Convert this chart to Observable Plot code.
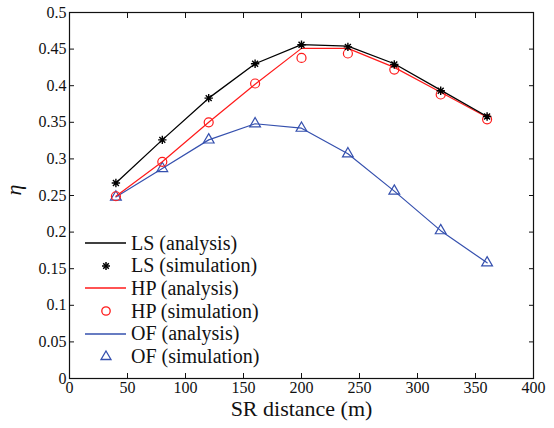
<!DOCTYPE html>
<html><head><meta charset="utf-8">
<script src="https://cdn.jsdelivr.net/npm/d3@7"></script>
<script src="https://cdn.jsdelivr.net/npm/@observablehq/plot@0.6"></script>
<style>
body{margin:0;background:#fff;}
#wrap{position:relative;width:554px;height:428px;font-family:'Liberation Serif',serif;}
#legend{position:absolute;left:85px;top:232px;font-size:20px;color:#111;font-family:'Liberation Serif',serif;}
#legend div{display:flex;align-items:center;height:22.6px;}
#legend svg{width:46px;height:22px;}
</style></head>
<body><div id="wrap"></div>
<script>
const distances = [40, 80, 120, 160, 200, 240, 280, 320, 360];
const lsAnalysis = [0.267, 0.326, 0.383, 0.430, 0.456, 0.454, 0.430, 0.394, 0.358];
const lsSimulation = [0.267, 0.326, 0.383, 0.430, 0.456, 0.453, 0.429, 0.393, 0.358];
const hpAnalysis = [0.249, 0.296, 0.350, 0.402, 0.451, 0.451, 0.425, 0.391, 0.357];
const hpSimulation = [0.249, 0.296, 0.350, 0.403, 0.438, 0.444, 0.422, 0.388, 0.354];
const ofAnalysis = [0.248, 0.287, 0.326, 0.348, 0.342, 0.307, 0.256, 0.202, 0.158];
const ofSimulation = [0.248, 0.287, 0.326, 0.348, 0.342, 0.307, 0.256, 0.202, 0.158];
const xTicks = [0, 50, 100, 150, 200, 250, 300, 350, 400];
const yTicks = [0, 0.05, 0.1, 0.15, 0.2, 0.25, 0.3, 0.35, 0.4, 0.45, 0.5];
const seriesNames = ["LS (analysis)", "LS (simulation)", "HP (analysis)", "HP (simulation)", "OF (analysis)", "OF (simulation)"];
const colors = {LS: "#000000", HP: "#ff1a1a", OF: "#3550ae"};

const mk = (arr) => distances.map((x, i) => ({x, y: arr[i]}));
const yFmt = d => d === 0 ? "0" : String(+d.toFixed(2));

const star = {
  draw(ctx, size) {
    const r = Math.sqrt(size / Math.PI);
    const a = r * 0.7071;
    ctx.moveTo(-r, 0); ctx.lineTo(r, 0);
    ctx.moveTo(0, -r); ctx.lineTo(0, r);
    ctx.moveTo(-a, -a); ctx.lineTo(a, a);
    ctx.moveTo(-a, a); ctx.lineTo(a, -a);
  }
};

const FONT = "'Liberation Serif', serif";
const chart = Plot.plot({
  width: 554, height: 428,
  marginLeft: 69, marginRight: 21, marginTop: 12, marginBottom: 50,
  style: {fontFamily: FONT, fontSize: "16px", color: "#111", background: "#fff"},
  x: {domain: [0, 400]},
  y: {domain: [0, 0.5]},
  marks: [
    Plot.axisX(xTicks, {anchor: "bottom", tickSize: -5, tickPadding: 8, label: null, fontSize: 16, fontFamily: FONT}),
    Plot.axisX(xTicks, {anchor: "top", tickSize: -5, tickFormat: () => "", label: null}),
    Plot.axisY(yTicks, {anchor: "left", tickSize: -5, tickPadding: 8, tickFormat: yFmt, label: null, fontSize: 16, fontFamily: FONT}),
    Plot.axisY(yTicks, {anchor: "right", tickSize: -5, tickFormat: () => "", label: null}),
    Plot.frame({stroke: "#111", strokeWidth: 1.2}),
    Plot.line(mk(ofAnalysis), {x: "x", y: "y", stroke: colors.OF, strokeWidth: 1.2}),
    Plot.dot(mk(ofSimulation), {x: "x", y: "y", symbol: "triangle", r: 4.0, stroke: colors.OF, strokeWidth: 1.2, fill: "none"}),
    Plot.line(mk(hpAnalysis), {x: "x", y: "y", stroke: colors.HP, strokeWidth: 1.2}),
    Plot.dot(mk(hpSimulation), {x: "x", y: "y", symbol: "circle", r: 4.5, stroke: colors.HP, strokeWidth: 1.2, fill: "none"}),
    Plot.line(mk(lsAnalysis), {x: "x", y: "y", stroke: colors.LS, strokeWidth: 1.3}),
    Plot.dot(mk(lsSimulation), {x: "x", y: "y", symbol: star, r: 4.2, stroke: colors.LS, strokeWidth: 1.4}),
    Plot.text(["SR distance (m)"], {frameAnchor: "bottom", dy: 37, fontSize: 22, fill: "#111", fontFamily: FONT}),
    Plot.text(["η"], {frameAnchor: "left", dx: -56, rotate: -90, fontSize: 22, fontStyle: "italic", fill: "#111", fontFamily: FONT})
  ]
});
const wrap = document.getElementById("wrap");
wrap.appendChild(chart);

const legend = document.createElement("div");
legend.id = "legend";
const symbolSvg = {
  line: c => `<line x1="0" y1="11" x2="41" y2="11" stroke="${c}" stroke-width="1.3"/>`,
  asterisk: c => `<g transform="translate(21,11)" stroke="${c}" stroke-width="1.5"><line x1="-4" y1="0" x2="4" y2="0"/><line x1="-2.8" y1="-2.8" x2="2.8" y2="2.8"/><line x1="-2.8" y1="2.8" x2="2.8" y2="-2.8"/><line x1="0" y1="-4" x2="0" y2="4"/></g>`,
  circle: c => `<circle cx="21" cy="11" r="4.2" fill="none" stroke="${c}" stroke-width="1.3"/>`,
  triangle: c => `<path d="M21,6 L26,14.5 L16,14.5 Z" fill="none" stroke="${c}" stroke-width="1.3"/>`
};
const kinds = ["line", "asterisk", "line", "circle", "line", "triangle"];
seriesNames.forEach((name, i) => {
  const c = colors[name.slice(0, 2)];
  const row = document.createElement("div");
  row.innerHTML = `<svg viewBox="0 0 46 22">${symbolSvg[kinds[i]](c)}</svg><span>${name}</span>`;
  legend.appendChild(row);
});
wrap.appendChild(legend);
</script>
</body></html>
